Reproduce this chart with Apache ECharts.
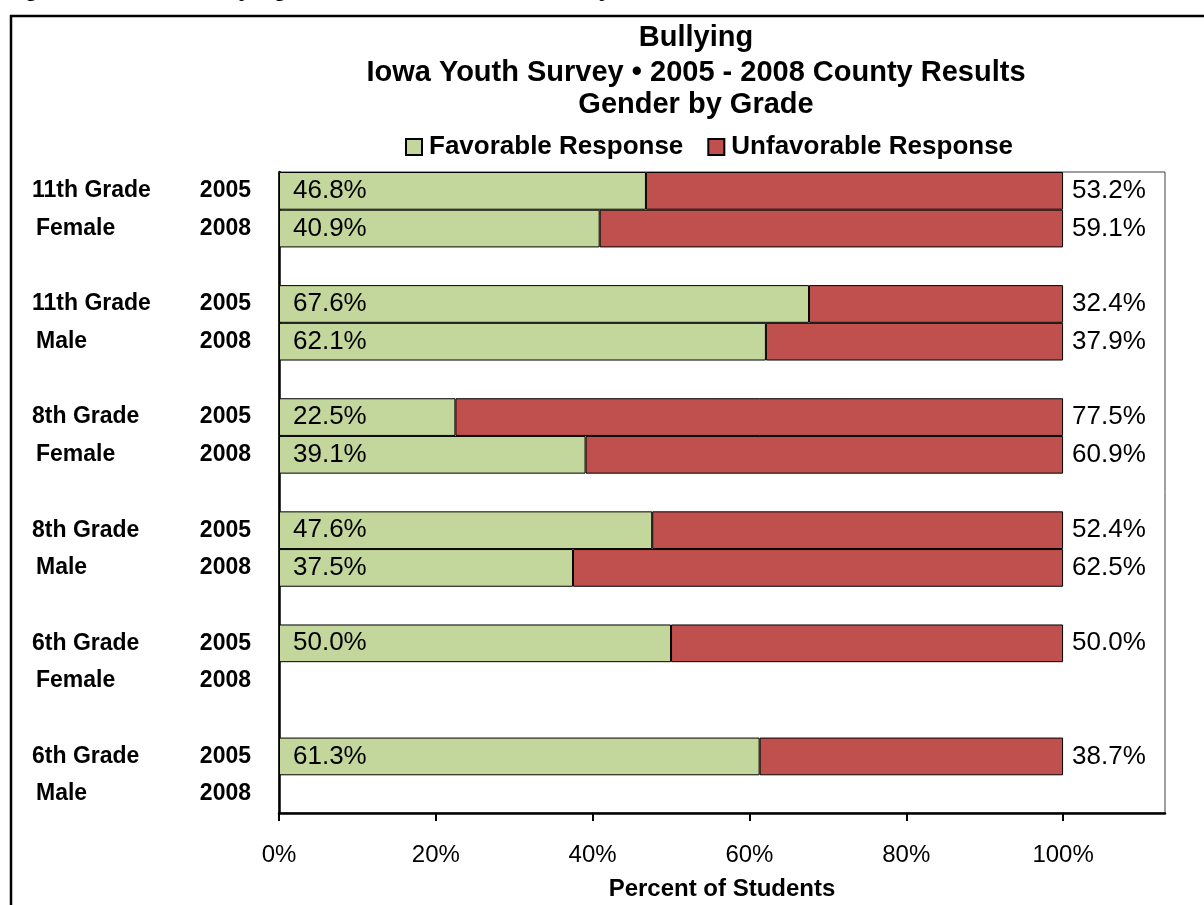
<!DOCTYPE html>
<html><head><meta charset="utf-8">
<script src="https://cdn.jsdelivr.net/npm/echarts@6/dist/echarts.min.js"></script>
<style>html,body{margin:0;padding:0;background:#fff}#c{width:1204px;height:905px}</style>
</head><body><div id="c"></div>
<script>
const gradeLabels = ['11th Grade','11th Grade','8th Grade','8th Grade','6th Grade','6th Grade'];
const genderLabels = ['Female','Male','Female','Male','Female','Male'];
const years = ['2005','2008'];
const favorable = [46.8, 40.9, 67.6, 62.1, 22.5, 39.1, 47.6, 37.5, 50.0, null, 61.3, null];
const unfavorable = [53.2, 59.1, 32.4, 37.9, 77.5, 60.9, 52.4, 62.5, 50.0, null, 38.7, null];
const xTicks = [0, 20, 40, 60, 80, 100];
const titleLines = ['Bullying', 'Iowa Youth Survey \u2022 2005 - 2008 County Results', 'Gender by Grade'];
const seriesNames = ['Favorable Response', 'Unfavorable Response'];

const FONT = '"Liberation Sans", Arial, sans-serif';
const categories = [], favData = [], unfData = [];
for (let g = 0; g < gradeLabels.length; g++) {
  for (let y = 0; y < years.length; y++) {
    const i = g * years.length + y;
    categories.push('L|' + (y === 0 ? gradeLabels[g] : genderLabels[g]) + '|' + years[y] + '|' + y);
    favData.push(favorable[i] == null ? '-' : favorable[i]);
    unfData.push(unfavorable[i] == null ? '-' : unfavorable[i]);
  }
  if (g < gradeLabels.length - 1) {
    categories.push('S|' + g);
    favData.push('-');
    unfData.push('-');
  }
}

const chart = echarts.init(document.getElementById('c'), null, {renderer: 'canvas'});
const pct = p => (typeof p.value === 'number' ? p.value.toFixed(1) + '%' : '');

chart.setOption({
  animation: false,
  backgroundColor: '#fff',
  textStyle: {fontFamily: FONT},
  graphic: [
    {type: 'rect', shape: {x: 11, y: 16, width: 1400, height: 1100}, style: {fill: 'none', stroke: '#000', lineWidth: 2.5}, silent: true},
    {type: 'text', x: 3, y: 1, style: {text: 'Figure 16.', font: 'bold 24px ' + FONT, fill: '#000', verticalAlign: 'bottom'}},
    {type: 'text', x: 193, y: 1, style: {text: 'Bullying Results, 2005 - 2008 County', font: 'bold 24px ' + FONT, fill: '#000', verticalAlign: 'bottom'}},
    {type: 'text', x: 696, y: 38, style: {text: titleLines[0], font: 'bold 29px ' + FONT, fill: '#000', align: 'center', verticalAlign: 'middle'}},
    {type: 'text', x: 696, y: 73, style: {text: titleLines[1], font: 'bold 29px ' + FONT, fill: '#000', align: 'center', verticalAlign: 'middle'}},
    {type: 'text', x: 696, y: 105, style: {text: titleLines[2], font: 'bold 29px ' + FONT, fill: '#000', align: 'center', verticalAlign: 'middle'}}
  ],
  legend: {
    left: 400, top: 129,
    itemWidth: 16, itemHeight: 16, itemGap: 24,
    icon: 'rect',
    textStyle: {fontSize: 26, fontWeight: 'bold', color: '#000', fontFamily: FONT, padding: [0, 0, 0, 2]},
    data: seriesNames
  },
  grid: {left: 279, right: 39, top: 172, bottom: 92, show: true, borderColor: '#404040', borderWidth: 1, containLabel: false, outerBoundsMode: 'none'},
  xAxis: {
    type: 'value', min: 0, max: 113, interval: 20,
    axisLine: {show: true, lineStyle: {color: '#000', width: 2.5}},
    axisTick: {show: true, length: 8, lineStyle: {color: '#000', width: 2}, customValues: xTicks},
    axisLabel: {customValues: xTicks, formatter: v => v + '%', fontSize: 24, color: '#000', margin: 30, fontFamily: FONT},
    splitLine: {show: false},
    name: 'Percent of Students', nameLocation: 'middle', nameGap: 64,
    nameTextStyle: {fontSize: 24, fontWeight: 'bold', color: '#000', fontFamily: FONT}
  },
  yAxis: {
    type: 'category', inverse: true, data: categories,
    axisLine: {show: true, lineStyle: {color: '#000', width: 2.5}},
    axisTick: {show: false},
    axisLabel: {
      margin: 28, interval: 0,
      formatter: v => {
        const p = v.split('|');
        if (p[0] !== 'L') return '';
        return (p[3] === '0' ? '{g|' : '{h|') + p[1] + '}{y|' + p[2] + '}';
      },
      rich: {
        g: {width: 161, align: 'left', fontSize: 23, fontWeight: 'bold', color: '#000', fontFamily: FONT},
        h: {width: 157, padding: [0, 0, 0, 4], align: 'left', fontSize: 23, fontWeight: 'bold', color: '#000', fontFamily: FONT},
        y: {width: 58, align: 'right', fontSize: 23, fontWeight: 'bold', color: '#000', fontFamily: FONT}
      }
    }
  },
  series: [
    {
      name: seriesNames[0], type: 'bar', stack: 'total', data: favData,
      barCategoryGap: '0%', barGap: '0%',
      itemStyle: {color: '#C3D69B', borderColor: '#000', borderWidth: 1},
      label: {show: true, position: 'insideLeft', distance: 14, formatter: pct, fontSize: 26, color: '#000', fontFamily: FONT}
    },
    {
      name: seriesNames[1], type: 'bar', stack: 'total', data: unfData,
      barCategoryGap: '0%', barGap: '0%',
      itemStyle: {color: '#C0504D', borderColor: '#000', borderWidth: 1},
      label: {show: true, position: 'right', distance: 9, formatter: pct, fontSize: 26, color: '#000', fontFamily: FONT}
    }
  ]
});
</script>
</body></html>
